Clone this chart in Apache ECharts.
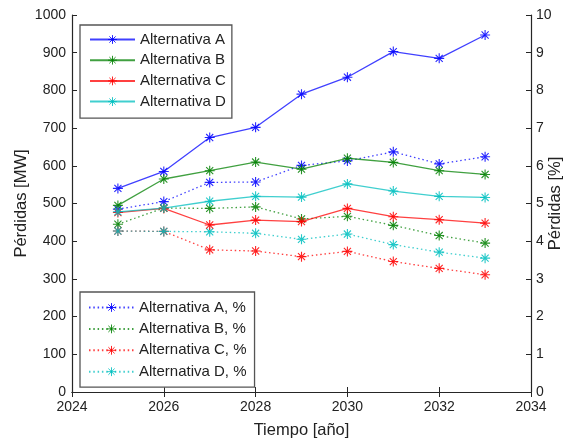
<!DOCTYPE html>
<html>
<head>
<meta charset="utf-8">
<script src="https://cdn.jsdelivr.net/npm/echarts@6/dist/echarts.min.js"></script>
<style>
html,body{margin:0;padding:0;background:#fff;}
#chart{width:580px;height:445px;}
</style>
</head>
<body>
<div id="chart"></div>
<script>
var years = [2025, 2026, 2027, 2028, 2029, 2030, 2031, 2032, 2033];
var altA = [540, 585, 675, 702, 790, 835, 903, 885, 947];
var altB = [495, 565, 587, 610, 591, 620, 609, 587, 577];
var altC = [476, 487, 443, 456, 452, 487, 465, 457, 448];
var altD = [478, 488, 506, 519, 517, 552, 533, 519, 516];
var pctA = [4.85, 5.05, 5.56, 5.57, 6.01, 6.13, 6.37, 6.05, 6.24];
var pctB = [4.45, 4.88, 4.87, 4.91, 4.59, 4.66, 4.42, 4.15, 3.95];
var pctC = [4.27, 4.26, 3.77, 3.74, 3.59, 3.73, 3.46, 3.28, 3.11];
var pctD = [4.27, 4.26, 4.25, 4.21, 4.05, 4.19, 3.91, 3.71, 3.55];
var namesMW = ['Alternativa A', 'Alternativa B', 'Alternativa C', 'Alternativa D'];
var namesPct = ['Alternativa A, %', 'Alternativa B, %', 'Alternativa C, %', 'Alternativa D, %'];
var xTicks = [2024, 2026, 2028, 2030, 2032, 2034];

var colors = ['#0000ff', '#008000', '#ff0000', '#00bfbf'];
var star = 'path://M0,-10L0,10M-10,0L10,0M-7.07,-7.07L7.07,7.07M-7.07,7.07L7.07,-7.07';
var FONT = 'Liberation Sans, Arial, sans-serif';

function pairs(vals) { return years.map(function (y, i) { return [y, vals[i]]; }); }

function mk(name, vals, color, axis, dotted) {
  return {
    name: name, type: 'line', yAxisIndex: axis, data: pairs(vals),
    symbol: star, symbolSize: 10,
    itemStyle: { color: color, borderColor: color, borderWidth: 1.1, opacity: 0.85 },
    lineStyle: { color: color, width: 1.3, opacity: 0.75, type: dotted ? [1.5, 2.8] : 'solid' },
    emphasis: { disabled: true }, animation: false, z: dotted ? 2 : 3
  };
}

var series = [
  mk(namesMW[0], altA, colors[0], 0, false),
  mk(namesMW[1], altB, colors[1], 0, false),
  mk(namesMW[2], altC, colors[2], 0, false),
  mk(namesMW[3], altD, colors[3], 0, false),
  mk(namesPct[0], pctA, colors[0], 1, true),
  mk(namesPct[1], pctB, colors[1], 1, true),
  mk(namesPct[2], pctC, colors[2], 1, true),
  mk(namesPct[3], pctD, colors[3], 1, true)
];

var axisCol = '#262626';
var plain = function (v) { return String(v); };
var legendBase = {
  orient: 'vertical', left: 80, itemWidth: 45, itemHeight: 11,
  backgroundColor: '#fff', borderColor: '#555', borderWidth: 1.3, borderRadius: 0,
  textStyle: { fontFamily: FONT, fontSize: 15, color: '#222', lineHeight: 15 },
  itemStyle: { borderWidth: 1 },
  selectedMode: false
};

var chart = echarts.init(document.getElementById('chart'), null, { renderer: 'canvas' });
chart.setOption({
  backgroundColor: '#fff',
  animation: false,
  grid: { left: 72, right: 49, top: 15, bottom: 53, outerBoundsMode: 'none', containLabel: false },
  legend: [
    Object.assign({}, legendBase, { data: namesMW, top: 25, itemGap: 5.7, padding: [7, 6, 9, 9] }),
    Object.assign({}, legendBase, { data: namesPct, top: 292, itemGap: 6.4, padding: [8, 8, 8, 8] })
  ],
  xAxis: [{
    type: 'value', min: xTicks[0], max: xTicks[xTicks.length - 1], interval: 2,
    position: 'bottom',
    name: 'Tiempo [año]', nameLocation: 'middle', nameGap: 30, nameMoveOverlap: false,
    nameTextStyle: { fontFamily: FONT, fontSize: 16.5, color: '#222' },
    axisLine: { show: true, lineStyle: { color: axisCol, width: 1.2 } },
    axisTick: { show: true, inside: true, length: 5, lineStyle: { color: axisCol } },
    axisLabel: { fontFamily: FONT, fontSize: 14, color: '#222', margin: 8, formatter: plain },
    splitLine: { show: false }
  }, {
    type: 'value', min: xTicks[0], max: xTicks[xTicks.length - 1], interval: 2,
    position: 'top',
    axisLine: { show: true, lineStyle: { color: axisCol, width: 1.2 } },
    axisTick: { show: true, inside: true, length: 5, lineStyle: { color: axisCol } },
    axisLabel: { show: false }, splitLine: { show: false }
  }],
  yAxis: [{
    type: 'value', min: 0, max: 1000, interval: 100, position: 'left',
    name: 'Pérdidas [MW]', nameLocation: 'middle', nameGap: 42, nameRotate: 90, nameMoveOverlap: false,
    nameTextStyle: { fontFamily: FONT, fontSize: 16.5, color: '#222' },
    axisLine: { show: true, lineStyle: { color: axisCol, width: 1.2 } },
    axisTick: { show: true, inside: true, length: 5, lineStyle: { color: axisCol } },
    axisLabel: { fontFamily: FONT, fontSize: 14, color: '#222', margin: 6, formatter: plain },
    splitLine: { show: false }
  }, {
    type: 'value', min: 0, max: 10, interval: 1, position: 'right',
    name: 'Pérdidas [%]', nameLocation: 'middle', nameGap: 16, nameRotate: 90, nameMoveOverlap: false,
    nameTextStyle: { fontFamily: FONT, fontSize: 16.5, color: '#222' },
    axisLine: { show: true, lineStyle: { color: axisCol, width: 1.2 } },
    axisTick: { show: true, inside: true, length: 5, lineStyle: { color: axisCol } },
    axisLabel: { fontFamily: FONT, fontSize: 14, color: '#222', margin: 5, formatter: plain },
    splitLine: { show: false }
  }],
  series: series
});
</script>
</body>
</html>
